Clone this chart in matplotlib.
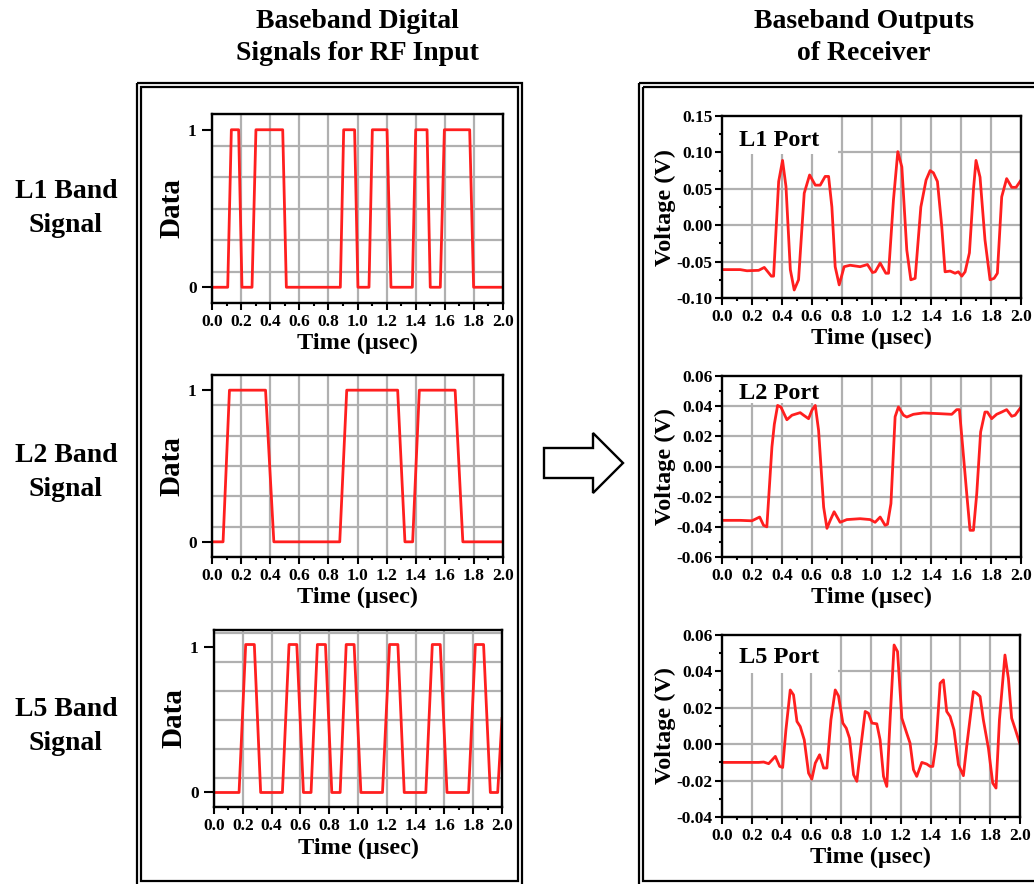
import numpy as np
import matplotlib
matplotlib.use("Agg")
import matplotlib.pyplot as plt
from matplotlib.patches import Rectangle, Polygon
from matplotlib.ticker import MultipleLocator, FixedLocator, FormatStrFormatter

plt.rcParams["font.family"] = ["Liberation Serif", "DejaVu Serif"]
plt.rcParams["font.weight"] = "bold"
plt.rcParams["axes.unicode_minus"] = False

# ---- input bit streams (digital data, 0/1) --------------------------------
L1_T = [0, 0.108, 0.133, 0.183, 0.206, 0.275, 0.302, 0.486, 0.511, 0.882, 0.905,
        0.98, 1.003, 1.079, 1.102, 1.203, 1.23, 1.377, 1.4, 1.478, 1.5, 1.569,
        1.597, 1.771, 1.798, 2.0]
L1_D = [0, 0, 1, 1, 0, 0, 1, 1, 0, 0, 1, 1, 0, 0, 1, 1, 0, 0, 1, 1, 0, 0, 1, 1, 0, 0]

L2_T = [0, 0.076, 0.12, 0.368, 0.425, 0.878, 0.926, 1.276, 1.326, 1.379, 1.425,
        1.671, 1.724, 2.0]
L2_D = [0, 0, 1, 1, 0, 0, 1, 1, 0, 0, 1, 1, 0, 0]

L5_T = [0, 0.174, 0.22, 0.28, 0.324, 0.475, 0.521, 0.575, 0.621, 0.674, 0.718,
        0.774, 0.818, 0.876, 0.918, 0.973, 1.02, 1.17, 1.219, 1.277, 1.321,
        1.471, 1.516, 1.571, 1.618, 1.768, 1.815, 1.872, 1.919, 1.97, 2.0]
L5_D = [0, 0, 1.02, 1.02, 0, 0, 1.02, 1.02, 0, 0, 1.02, 1.02, 0, 0, 1.02, 1.02,
        0, 0, 1.02, 1.02, 0, 0, 1.02, 1.02, 0, 0, 1.02, 1.02, 0, 0, 0.51]

# ---- receiver baseband outputs (V) ----------------------------------------
P1_T = [0, 0.122, 0.167, 0.245, 0.283, 0.33, 0.345, 0.379, 0.405, 0.428, 0.457,
        0.483, 0.512, 0.55, 0.586, 0.624, 0.657, 0.69, 0.713, 0.735, 0.757,
        0.784, 0.817, 0.857, 0.924, 0.973, 1.007, 1.025, 1.058, 1.096, 1.114,
        1.147, 1.176, 1.203, 1.236, 1.263, 1.292, 1.33, 1.365, 1.392, 1.414,
        1.441, 1.47, 1.492, 1.526, 1.559, 1.581, 1.604, 1.626, 1.655, 1.682,
        1.699, 1.726, 1.759, 1.793, 1.82, 1.842, 1.871, 1.904, 1.938, 1.967, 2.0]
P1_V = [-0.061, -0.061, -0.0626, -0.062, -0.058, -0.070, -0.070, 0.060, 0.089,
        0.053, -0.061, -0.089, -0.075, 0.044, 0.069, 0.055, 0.055, 0.067, 0.067,
        0.025, -0.057, -0.082, -0.057, -0.055, -0.057, -0.054, -0.065, -0.064,
        -0.052, -0.066, -0.066, 0.035, 0.101, 0.080, -0.034, -0.075, -0.073,
        0.025, 0.062, 0.075, 0.072, 0.060, -0.002, -0.064, -0.063, -0.066,
        -0.064, -0.070, -0.064, -0.038, 0.049, 0.089, 0.066, -0.020, -0.075,
        -0.073, -0.066, 0.039, 0.064, 0.052, 0.052, 0.062]

P2_T = [0, 0.122, 0.2, 0.252, 0.278, 0.30, 0.334, 0.35, 0.372, 0.394, 0.434,
        0.468, 0.523, 0.546, 0.579, 0.601, 0.624, 0.646, 0.68, 0.702, 0.724,
        0.75, 0.79, 0.835, 0.924, 0.991, 1.024, 1.058, 1.091, 1.107, 1.13,
        1.158, 1.18, 1.214, 1.236, 1.28, 1.347, 1.459, 1.537, 1.57, 1.588,
        1.61, 1.637, 1.659, 1.682, 1.704, 1.73, 1.759, 1.775, 1.804, 1.837,
        1.871, 1.904, 1.938, 1.96, 2.0]
P2_V = [-0.0357, -0.0357, -0.036, -0.0335, -0.039, -0.040, 0.013, 0.028, 0.0405,
        0.0394, 0.031, 0.034, 0.0357, 0.034, 0.0317, 0.0372, 0.0405, 0.024,
        -0.027, -0.041, -0.0357, -0.030, -0.037, -0.0352, -0.0346, -0.0352,
        -0.037, -0.0335, -0.039, -0.0383, -0.0246, 0.033, 0.0395, 0.034, 0.0328,
        0.0346, 0.0355, 0.035, 0.0346, 0.0377, 0.0377, 0.013, -0.018, -0.0423,
        -0.0423, -0.018, 0.0229, 0.0361, 0.0361, 0.0317, 0.0346, 0.0361, 0.0377,
        0.0333, 0.034, 0.0394]

P5_T = [0, 0.123, 0.246, 0.28, 0.313, 0.358, 0.387, 0.407, 0.429, 0.458, 0.48,
        0.503, 0.525, 0.552, 0.581, 0.603, 0.626, 0.655, 0.682, 0.704, 0.731,
        0.76, 0.782, 0.811, 0.834, 0.856, 0.883, 0.905, 0.932, 0.961, 0.983,
        1.006, 1.039, 1.061, 1.084, 1.106, 1.128, 1.155, 1.178, 1.207, 1.24,
        1.262, 1.285, 1.307, 1.341, 1.374, 1.397, 1.415, 1.437, 1.464, 1.486,
        1.508, 1.531, 1.557, 1.587, 1.62, 1.642, 1.687, 1.709, 1.732, 1.754,
        1.788, 1.817, 1.839, 1.862, 1.899, 1.922, 1.944, 1.966, 2.0]
P5_V = [-0.010, -0.010, -0.010, -0.0098, -0.0107, -0.0067, -0.0122, -0.0128,
        0.0079, 0.0298, 0.0271, 0.0125, 0.0097, 0.0024, -0.0159, -0.0192,
        -0.0104, -0.0058, -0.0131, -0.0131, 0.0134, 0.0298, 0.0265, 0.0116,
        0.0088, 0.0033, -0.0168, -0.0204, -0.0013, 0.0180, 0.0170, 0.0116,
        0.0112, 0.0024, -0.0177, -0.0232, 0.0134, 0.0545, 0.0509, 0.0143,
        0.0060, 0.0006, -0.0140, -0.0177, -0.0100, -0.0109, -0.0122, -0.0122,
        0.0006, 0.0335, 0.0353, 0.0180, 0.0152, 0.0079, -0.0113, -0.0173,
        -0.0013, 0.0289, 0.0280, 0.0262, 0.0134, -0.0022, -0.0214, -0.0241,
        0.0134, 0.0490, 0.0362, 0.0143, 0.0088, 0.0000]

RED = "#ff1f1f"
GRID = "#b0b0b0"
W, H = 1034, 884

fig = plt.figure(figsize=(W / 100, H / 100), dpi=100)

# overlay for frames, arrow and free text (pixel coordinates)
ov = fig.add_axes([0, 0, 1, 1], zorder=-1)
ov.set_xlim(0, W)
ov.set_ylim(H, 0)
ov.axis("off")
for (x0, x1) in [(137, 522), (639, 1040)]:
    ov.add_patch(Rectangle((x0, 83), x1 - x0, 803, fill=False, lw=1.6, ec="black"))
    ov.add_patch(Rectangle((x0 + 4, 87), x1 - x0 - 8, 794, fill=False, lw=1.6, ec="black"))
ov.add_patch(Polygon([(544, 448), (593, 448), (593, 433), (623, 463),
                      (593, 493), (593, 478), (544, 478)],
                     closed=True, fill=False, lw=1.7, ec="black", joinstyle="miter"))

tkw = dict(ha="center", va="center", fontsize=20, fontweight="bold")
ov.text(357, 21, "Baseband Digital", **tkw)
ov.text(357, 54, "Signals for RF Input", **tkw)
ov.text(864, 21, "Baseband Outputs", **tkw)
ov.text(864, 54, "of Receiver", **tkw)
for name, yc in [("L1", 192), ("L2", 455), ("L5", 710)]:
    ov.text(66, yc, f"{name} Band", **tkw)
    ov.text(66, yc + 34, "Signal", **tkw)


def add_ax(l, r, t, b):
    return fig.add_axes([l / W, 1 - b / H, (r - l) / W, (b - t) / H])


def style(ax, tsize, xpad):
    ax.set_axisbelow(True)
    for s in ax.spines.values():
        s.set_linewidth(1.7)
    ax.set_xlim(0, 2.0)
    ax.xaxis.set_major_locator(MultipleLocator(0.2))
    ax.xaxis.set_minor_locator(MultipleLocator(0.1))
    ax.xaxis.set_major_formatter(FormatStrFormatter("%.1f"))
    ax.tick_params(which="major", direction="out", length=5, width=1.5,
                   labelsize=tsize, pad=3)
    ax.tick_params(which="minor", direction="out", length=2.5, width=1.5)
    ax.tick_params(axis="x", which="both", top=False)
    ax.tick_params(axis="y", which="both", right=False)
    for lab in ax.get_xticklabels() + ax.get_yticklabels():
        lab.set_fontweight("bold")
    ax.set_xlabel("Time (\u00b5sec)", fontsize=17.5, fontweight="bold", labelpad=xpad)


# ---- left column: digital input data --------------------------------------
left_specs = [(L1_T, L1_D, (212, 503, 114, 303), 1.1, 2),
              (L2_T, L2_D, (212, 503, 375, 557), 1.1, 2),
              (L5_T, L5_D, (214, 502, 630, 807), 1.12, 3)]
for t, d, box, ytop, xpad in left_specs:
    ax = add_ax(*box)
    ax.plot(t, d, color=RED, lw=2.0, zorder=2)
    ax.set_ylim(-0.1, ytop)
    ax.yaxis.set_major_locator(FixedLocator([0, 1]))
    ax.yaxis.set_minor_locator(FixedLocator([-0.1, 0.1, 0.3, 0.5, 0.7, 0.9, 1.1]))
    style(ax, 12.5, xpad)
    ax.tick_params(axis="y", which="major", length=7, pad=4)
    ax.tick_params(axis="y", which="minor", length=0)
    ax.grid(True, axis="x", which="major", color=GRID, lw=1.6)
    ax.grid(True, axis="y", which="minor", color=GRID, lw=1.6)
    ax.set_ylabel("Data", fontsize=21, fontweight="bold", labelpad=2)

# ---- right column: receiver outputs ----------------------------------------
right_specs = [(P1_T, P1_V, (722, 1021, 116, 298), (-0.10, 0.15), 0.05, 0.025,
                "L1 Port", 0.79, 0.868),
               (P2_T, P2_V, (722, 1021, 376, 557), (-0.06, 0.06), 0.02, 0.01,
                "L2 Port", 0.85, 0.906),
               (P5_T, P5_V, (722, 1020, 635, 817), (-0.04, 0.06), 0.02, 0.01,
                "L5 Port", 0.79, 0.874)]
for t, v, box, ylim, maj, mnr, lab, boxy, ty in right_specs:
    ax = add_ax(*box)
    ax.plot(t, v, color=RED, lw=2.0, zorder=2)
    ax.set_ylim(*ylim)
    ax.yaxis.set_major_locator(MultipleLocator(maj))
    ax.yaxis.set_minor_locator(MultipleLocator(mnr))
    ax.yaxis.set_major_formatter(FormatStrFormatter("%.2f"))
    style(ax, 12.5, 2)
    ax.tick_params(axis="y", which="major", pad=2)
    ax.grid(True, which="major", color=GRID, lw=1.6)
    ax.set_ylabel("Voltage (V)", fontsize=17.5, fontweight="bold", labelpad=0)
    ax.add_patch(Rectangle((0.003, boxy), 0.385, 0.995 - boxy, transform=ax.transAxes,
                           fc="white", ec="none", zorder=1))
    ax.text(0.056, ty, lab, transform=ax.transAxes, ha="left", va="center",
            fontsize=17.5, fontweight="bold", zorder=3)

fig.savefig("out.png", dpi=100)
